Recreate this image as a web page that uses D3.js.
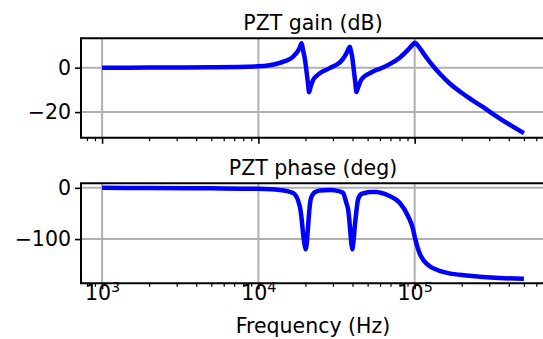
<!DOCTYPE html>
<html>
<head>
<meta charset="utf-8">
<script src="https://cdn.jsdelivr.net/npm/d3@7"></script>
<style>
  html, body { margin: 0; padding: 0; background: #fff; }
  svg { display: block; font-family: "DejaVu Sans", sans-serif; }
</style>
</head>
<body>
<svg id="chart" width="543" height="339"></svg>
<script>
// values
const freqs = [1000, 2000, 5000, 10000, 13700, 16700, 18400, 18900, 19300, 19800,
  20100, 20800, 21100, 21600, 22400, 23500, 24700, 28600, 33200, 34800,
  36600, 37500, 38500, 38800, 40000, 40400, 41600, 42400, 43400, 45600,
  47900, 51600, 56900, 59700, 69200, 80200, 90600, 97500, 100000, 107600,
  115000, 124800, 134000, 144500, 167000, 214000, 273000, 349000, 500000];
const gainDb = [0, 0.05, 0.2, 0.6, 2.2, 5.0, 9.0, 11.0, 8.0, 4.2,
  1.0, -7.5, -11.0, -8.5, -5.5, -3.8, -2.5, -0.2, 2.4, 4.0,
  6.5, 8.2, 9.4, 8.5, 4.0, 1.3, -6.0, -11.0, -9.0, -5.4,
  -3.8, -2.5, -1.0, -0.5, 1.6, 4.5, 8.0, 10.5, 11.2, 8.9,
  6.0, 2.6, 0, -2.6, -7.0, -12.8, -17.7, -22.8, -29.5];
const phaseDeg = [0, -0.3, -1, -2, -4, -10, -36, -60, -88, -112,
  -120, -75, -50, -23, -12, -7, -5, -4, -7, -10,
  -30, -42, -75, -88, -120, -110, -68, -45, -23, -12,
  -10, -8, -8, -9, -16, -29, -55, -80, -95, -128,
  -143, -153, -158, -162, -167, -171, -174, -176, -177.5];

const xMajor = [1e3, 1e4, 1e5];
const gainTicks = [0, -20];
const phaseTicks = [0, -100];
const titles = ["PZT gain (dB)", "PZT phase (deg)"];
const xLabel = "Frequency (Hz)";

const left = 81, right = 545;
const panels = [
  { top: 38.3, bottom: 137.7, values: gainDb, ticks: gainTicks, title: titles[0], labels: false },
  { top: 183.3, bottom: 283.3, values: phaseDeg, ticks: phaseTicks, title: titles[1], labels: true }
];

const svg = d3.select("#chart");
const fontSize = 20.5;

// matplotlib-style 5% margins
function padExtent(ext) {
  const pad = (ext[1] - ext[0]) * 0.05;
  return [ext[0] - pad, ext[1] + pad];
}

const logExt = d3.extent(freqs).map(Math.log10);
const logPad = padExtent(logExt);
const xScale = d3.scaleLog()
  .domain([Math.pow(10, logPad[0]), Math.pow(10, logPad[1])])
  .range([left, right]);

const minorTicks = xScale.ticks().filter(t => !xMajor.includes(t));

panels.forEach(p => {
  const yScale = d3.scaleLinear()
    .domain(padExtent(d3.extent(p.values)))
    .range([p.bottom, p.top]);

  const g = svg.append("g");

  // grid
  g.selectAll(".vgrid")
    .data(xMajor)
    .join("line")
    .attr("x1", d => xScale(d)).attr("x2", d => xScale(d))
    .attr("y1", p.top).attr("y2", p.bottom)
    .attr("stroke", "#b0b0b0").attr("stroke-width", 2);
  g.selectAll(".hgrid")
    .data(p.ticks)
    .join("line")
    .attr("x1", left).attr("x2", right)
    .attr("y1", d => yScale(d)).attr("y2", d => yScale(d))
    .attr("stroke", "#b0b0b0").attr("stroke-width", 2);

  // the curve
  const line = d3.line()
    .x((d, i) => xScale(freqs[i]))
    .y(d => yScale(d))
    .curve(d3.curveMonotoneX);
  g.append("path")
    .datum(p.values)
    .attr("d", line)
    .attr("fill", "none")
    .attr("stroke", "#0000ff")
    .attr("stroke-width", 4.5)
    .attr("stroke-linejoin", "round")
    .attr("stroke-linecap", "butt");

  // y axis
  const yAxis = g.append("g")
    .attr("transform", `translate(${left},0)`)
    .call(d3.axisLeft(yScale).tickValues(p.ticks).tickSize(6).tickPadding(4));
  yAxis.select(".domain").remove();
  yAxis.selectAll(".tick line").attr("stroke", "#000").attr("stroke-width", 1.6);
  yAxis.selectAll(".tick text")
    .attr("font-size", fontSize)
    .attr("font-family", "DejaVu Sans")
    .attr("fill", "#000");

  // x axis: major + minor
  const xAxis = g.append("g")
    .attr("transform", `translate(0,${p.bottom})`)
    .call(d3.axisBottom(xScale).tickValues(xMajor).tickSize(6).tickFormat(() => ""));
  xAxis.select(".domain").remove();
  xAxis.selectAll(".tick line").attr("stroke", "#000").attr("stroke-width", 1.6);
  xAxis.selectAll(".tick text").remove();

  const xMinor = g.append("g")
    .attr("transform", `translate(0,${p.bottom})`)
    .call(d3.axisBottom(xScale).tickValues(minorTicks).tickSize(3.5).tickFormat(() => ""));
  xMinor.select(".domain").remove();
  xMinor.selectAll(".tick line").attr("stroke", "#000").attr("stroke-width", 1.2);
  xMinor.selectAll(".tick text").remove();

  if (p.labels) {
    xAxis.selectAll(".tick")
      .append("text")
      .attr("y", 300 - p.bottom)
      .attr("text-anchor", "middle")
      .attr("fill", "#000")
      .attr("font-size", fontSize)
      .attr("font-family", "DejaVu Sans")
      .each(function(d) {
        const t = d3.select(this);
        t.append("tspan").text("10");
        t.append("tspan")
          .attr("font-size", fontSize * 0.7)
          .attr("dy", -8.5)
          .text(Math.round(Math.log10(d)));
      });
  }

  // spines (right one lies past the canvas edge)
  g.append("path")
    .attr("d", `M${right},${p.top}H${left}V${p.bottom}H${right}V${p.top}`)
    .attr("fill", "none")
    .attr("stroke", "#000")
    .attr("stroke-width", 2);

  // title
  svg.append("text")
    .attr("x", (left + right) / 2)
    .attr("y", p.top - 8)
    .attr("text-anchor", "middle")
    .attr("font-size", fontSize)
    .attr("fill", "#000")
    .text(p.title);
});

svg.append("text")
  .attr("x", (left + right) / 2)
  .attr("y", 333)
  .attr("text-anchor", "middle")
  .attr("font-size", fontSize)
  .attr("fill", "#000")
  .text(xLabel);
</script>
</body>
</html>
